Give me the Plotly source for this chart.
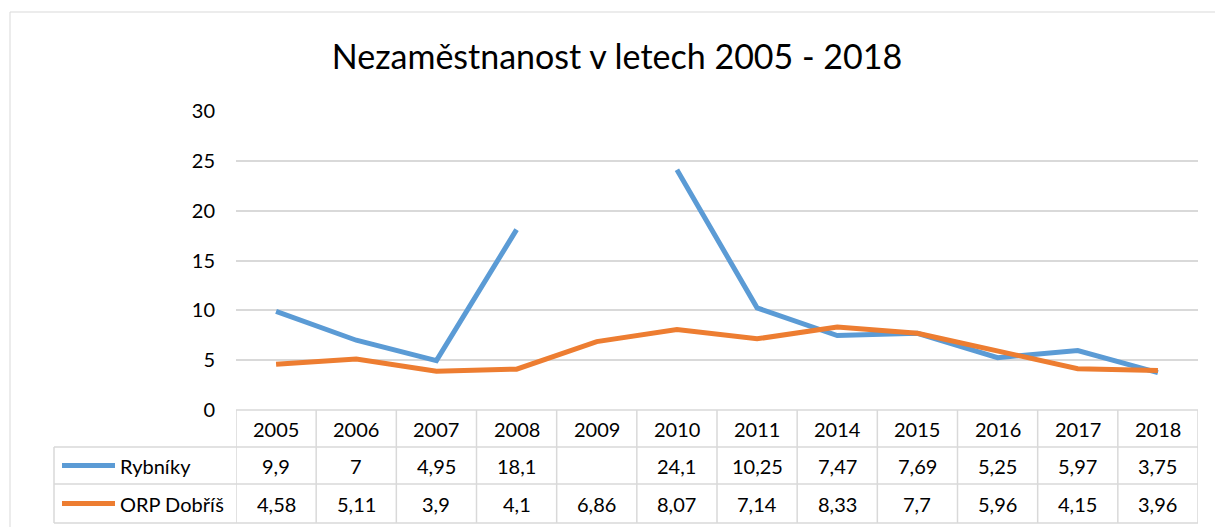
import plotly.graph_objects as go

years = ["2005", "2006", "2007", "2008", "2009", "2010", "2011", "2014", "2015", "2016", "2017", "2018"]
rybniky = [9.9, 7, 4.95, 18.1, None, 24.1, 10.25, 7.47, 7.69, 5.25, 5.97, 3.75]
orp_dobris = [4.58, 5.11, 3.9, 4.1, 6.86, 8.07, 7.14, 8.33, 7.7, 5.96, 4.15, 3.96]
series_names = ["Rybníky", "ORP Dobříš"]
colors = ["#5B9BD5", "#ED7D31"]
title_text = "Nezaměstnanost v letech 2005 - 2018"
y_ticks = [0, 5, 10, 15, 20, 25, 30]

W, H = 1215, 527
L, R, T, B = 236, 17, 111, 117
PW, PH = W - L - R, H - T - B

def px_x(p):
    return (p - L) / PW

def px_y(p):
    return (H - B - p) / PH

FONT = "Lato"
GRID = "#D9D9D9"

fig = go.Figure()
for name, vals, col in zip(series_names, [rybniky, orp_dobris], colors):
    fig.add_trace(go.Scatter(
        x=years, y=vals, mode="lines", name=name,
        line=dict(color=col, width=5), connectgaps=False,
        showlegend=False, hoverinfo="skip",
    ))

shapes = []
annotations = []
shapes.append(dict(type="rect", xref="paper", yref="paper",
                   x0=px_x(10), x1=px_x(1225), y0=px_y(540), y1=px_y(12),
                   line=dict(color=GRID, width=1), layer="below"))

row_top = [410, 447, 484]
row_bot = [447, 484, 523]
for yy in [447, 484, 523]:
    shapes.append(dict(type="line", xref="paper", yref="paper",
                       x0=px_x(54), x1=1, y0=px_y(yy), y1=px_y(yy),
                       line=dict(color=GRID, width=1.5)))
shapes.append(dict(type="line", xref="paper", yref="paper",
                   x0=0, x1=1, y0=0, y1=0, line=dict(color=GRID, width=1.5)))
for i in range(len(years) + 1):
    shapes.append(dict(type="line", xref="x", yref="paper",
                       x0=i - 0.5, x1=i - 0.5, y0=0, y1=px_y(523),
                       line=dict(color=GRID, width=1.5)))
shapes.append(dict(type="line", xref="paper", yref="paper",
                   x0=px_x(54), x1=px_x(54), y0=px_y(447), y1=px_y(523),
                   line=dict(color=GRID, width=1.5)))

def fmt(v):
    if v is None:
        return ""
    return ("%g" % v).replace(".", ",")

TS = 20
for i, yr in enumerate(years):
    annotations.append(dict(xref="x", yref="paper", x=i, y=px_y(428.5), text=yr,
                            xanchor="center", yanchor="middle",
                            showarrow=False, font=dict(family=FONT, size=TS, color="#000")))
for r, (vals, name, col) in enumerate(zip([rybniky, orp_dobris], series_names, colors)):
    cy = px_y((row_top[r + 1] + row_bot[r + 1]) / 2)
    for i, v in enumerate(vals):
        annotations.append(dict(xref="x", yref="paper", x=i, y=cy, text=fmt(v),
                                xanchor="center", yanchor="middle",
                                showarrow=False, font=dict(family=FONT, size=TS, color="#000")))
    annotations.append(dict(xref="paper", yref="paper", x=px_x(118), y=cy, text=name,
                            xanchor="left", yanchor="middle", showarrow=False,
                            font=dict(family=FONT, size=TS, color="#000")))
    shapes.append(dict(type="line", xref="paper", yref="paper",
                       x0=px_x(62), x1=px_x(115), y0=cy, y1=cy,
                       line=dict(color=col, width=5)))

fig.update_layout(
    width=W, height=H,
    margin=dict(l=L, r=R, t=T, b=B, autoexpand=False),
    paper_bgcolor="white", plot_bgcolor="white",
    hovermode=False,
    title=dict(text=title_text, x=617 / W, xref="container", xanchor="center",
               y=1 - 57 / H, yanchor="middle", yref="container",
               font=dict(family=FONT, size=34, color="#000")),
    xaxis=dict(type="category", range=[-0.5, len(years) - 0.5], showticklabels=False,
               showgrid=False, zeroline=False, showline=False, ticks="", automargin=False),
    yaxis=dict(range=[0, 30], tickvals=y_ticks, showgrid=True, gridcolor=GRID, gridwidth=1.5,
               zeroline=False, showline=False, ticks="", ticklabelstandoff=20, automargin=False,
               tickfont=dict(family=FONT, size=20, color="#000")),
    shapes=shapes, annotations=annotations,
)

fig.write_html("out.html", config={"displayModeBar": False},
               post_script="document.body.style.margin='0';document.body.style.overflow='hidden';")
